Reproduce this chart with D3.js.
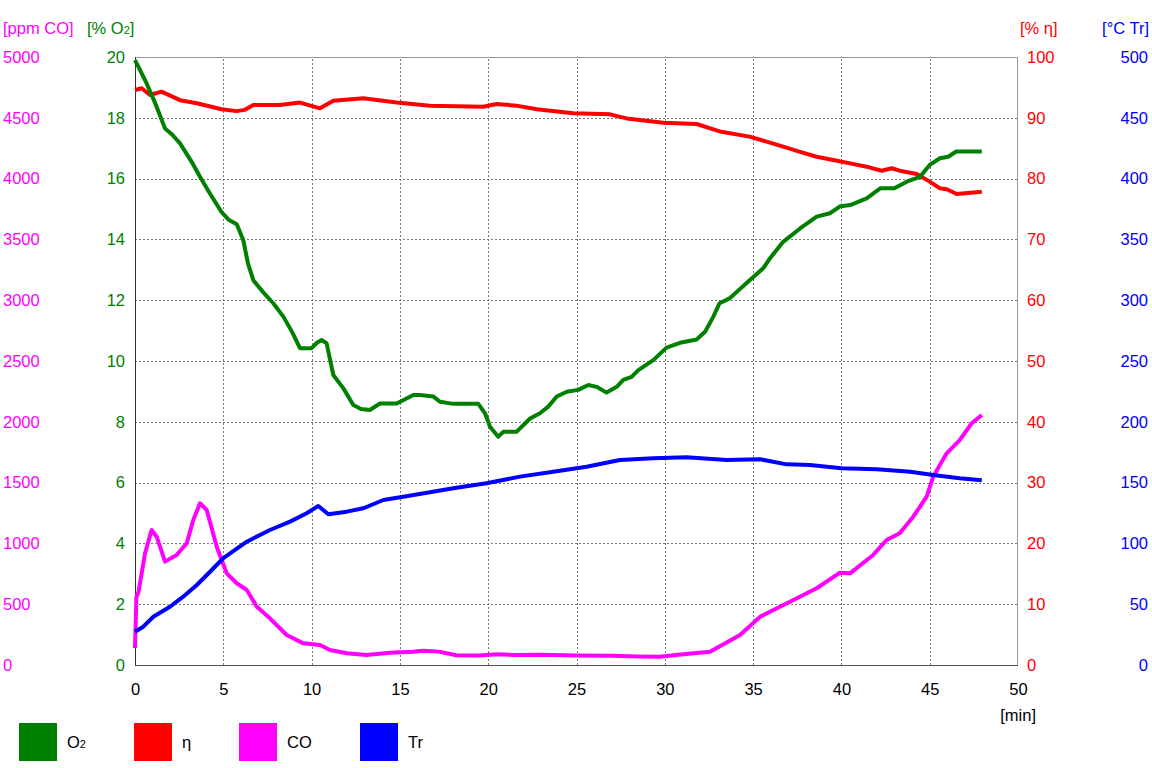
<!DOCTYPE html>
<html>
<head>
<meta charset="utf-8">
<script src="https://cdn.jsdelivr.net/npm/d3@7"></script>
<style>
  body { margin: 0; background: #fff; }
  svg { font-family: "Liberation Sans", Arial, sans-serif; }
  .grid line { stroke: #777; stroke-dasharray: 2,2; shape-rendering: crispEdges; }
  .grid path { display: none; }
  .tick text { font-size: 16.5px; }
</style>
</head>
<body>
<svg id="chart"></svg>
<script>
// values (time in minutes)
const o2Time = [0, 0.3, 0.66, 1.13, 1.7, 2.1, 2.55, 3.2, 3.68, 4.25, 4.9, 5.3, 5.76, 6.13, 6.4, 6.7, 7.2, 7.83, 8.4, 8.9, 9.34, 10.0, 10.3, 10.57, 10.85, 11.23, 11.8, 12.36, 12.8, 13.3, 13.87, 14.82, 15.76, 16.14, 16.9, 17.27, 18.02, 19.44, 19.82, 20.1, 20.57, 20.85, 21.6, 22.37, 22.93, 23.4, 23.88, 24.45, 25.1, 25.67, 26.14, 26.7, 27.28, 27.65, 28.12, 28.5, 29.35, 30.1, 30.86, 31.8, 32.28, 32.75, 33.1, 33.67, 34.6, 35.57, 35.96, 36.7, 37.66, 38.6, 39.35, 39.9, 40.5, 41.43, 42.2, 43.0, 43.7, 44.45, 45.0, 45.58, 46.05, 46.5, 47.95];
const o2Values = [19.9, 19.55, 19.13, 18.5, 17.65, 17.45, 17.16, 16.56, 16.06, 15.5, 14.9, 14.65, 14.5, 13.98, 13.2, 12.66, 12.3, 11.9, 11.46, 10.95, 10.42, 10.42, 10.6, 10.69, 10.58, 9.54, 9.1, 8.55, 8.42, 8.39, 8.6, 8.6, 8.88, 8.88, 8.83, 8.66, 8.59, 8.59, 8.28, 7.84, 7.51, 7.67, 7.67, 8.11, 8.28, 8.5, 8.83, 8.99, 9.05, 9.21, 9.15, 8.96, 9.15, 9.38, 9.48, 9.7, 10.03, 10.44, 10.6, 10.71, 10.96, 11.46, 11.9, 12.06, 12.55, 13.05, 13.38, 13.92, 14.36, 14.75, 14.86, 15.08, 15.13, 15.35, 15.68, 15.68, 15.9, 16.06, 16.45, 16.67, 16.72, 16.89, 16.89];

const etaTime = [0, 0.38, 0.85, 1.5, 2.55, 3.5, 4.9, 5.76, 6.2, 6.7, 8.2, 9.34, 10.48, 11.23, 12.93, 14.82, 16.7, 19.72, 20.48, 21.6, 22.75, 24.82, 26.9, 27.84, 29.92, 31.8, 33.2, 34.8, 35.77, 36.7, 37.66, 38.6, 39.54, 40.5, 41.43, 42.28, 42.85, 43.3, 44.26, 45.0, 45.58, 45.96, 46.53, 47.95];
const etaValues = [94.57, 94.85, 93.75, 94.3, 92.9, 92.4, 91.4, 91.1, 91.3, 92.1, 92.1, 92.5, 91.56, 92.8, 93.2, 92.5, 92.0, 91.83, 92.27, 92.0, 91.4, 90.74, 90.57, 89.9, 89.2, 88.98, 87.7, 86.9, 86.07, 85.25, 84.4, 83.6, 83.06, 82.5, 81.96, 81.3, 81.7, 81.3, 80.76, 79.5, 78.4, 78.24, 77.47, 77.85];

const coTime = [0, 0.08, 0.2, 0.57, 0.94, 1.23, 1.7, 2.36, 2.93, 3.3, 3.68, 4.06, 4.63, 5.19, 5.76, 6.33, 6.9, 7.64, 8.59, 9.53, 10.48, 11.04, 11.99, 13.1, 14.44, 15.76, 16.3, 17.2, 18.2, 19.5, 20.5, 21.5, 23, 25, 27, 28.5, 29.73, 30.5, 31.5, 32.56, 34.26, 35.4, 37.28, 38.6, 39.92, 40.49, 41.8, 42.56, 43.3, 44.07, 44.83, 45.2, 45.96, 46.7, 47.38, 47.95];
const coValues = [140, 560, 600, 919, 1110, 1055, 850, 905, 1001, 1192, 1330, 1275, 973, 754, 672, 617, 479, 384, 247, 178, 164, 123, 96, 82, 101, 109, 118, 110, 80, 78, 88, 82, 85, 78, 76, 70, 68, 80, 95, 109, 247, 397, 535, 631, 759, 754, 905, 1028, 1083, 1220, 1384, 1549, 1741, 1850, 1988, 2056];

const trTime = [0, 0.47, 1.04, 1.98, 2.73, 3.5, 4.25, 5.0, 6.33, 7.64, 8.78, 9.72, 10.38, 10.95, 11.99, 12.93, 14.06, 15.19, 16.7, 18.02, 19.9, 21.8, 23.68, 25.57, 27.46, 29.35, 31.24, 33.5, 35.4, 36.9, 38.22, 40.0, 42.0, 43.9, 45.2, 46.7, 47.95];
const trValues = [27.4, 31.5, 39.7, 47.9, 56.2, 65.8, 76.7, 87.8, 101.4, 111, 117.9, 124.8, 130.8, 123.9, 126.1, 128.9, 135.7, 138.4, 142, 145.3, 149.4, 154.9, 159, 163.1, 168.6, 170, 170.8, 168.6, 169.2, 165, 164.5, 161.8, 160.9, 159, 156.3, 153.5, 152];

const xTicks = [0, 5, 10, 15, 20, 25, 30, 35, 40, 45, 50];
const o2Ticks = [0, 2, 4, 6, 8, 10, 12, 14, 16, 18, 20];
const coTicks = [0, 500, 1000, 1500, 2000, 2500, 3000, 3500, 4000, 4500, 5000];
const etaTicks = [0, 10, 20, 30, 40, 50, 60, 70, 80, 90, 100];
const trTicks = [0, 50, 100, 150, 200, 250, 300, 350, 400, 450, 500];

// [main text, subscript]
const legendNames = [["O", "2"], ["η", ""], ["CO", ""], ["Tr", ""]];
const legendColors = ["#008000", "#ff0000", "#ff00ff", "#0000ff"];

const width = 1152;
const height = 768;
const plotLeft = 135, plotRight = 1018, plotTop = 57, plotBottom = 665;
const fontSize = 16.5;

const svg = d3.select("#chart")
              .attr("width", width)
              .attr("height", height);

const x = d3.scaleLinear().domain([0, 50]).range([plotLeft, plotRight]);
const yO2 = d3.scaleLinear().domain([0, 20]).range([plotBottom, plotTop]);
const yEta = d3.scaleLinear().domain([0, 100]).range([plotBottom, plotTop]);
const yCO = d3.scaleLinear().domain([0, 5000]).range([plotBottom, plotTop]);
const yTr = d3.scaleLinear().domain([0, 500]).range([plotBottom, plotTop]);

// grid
svg.append("g")
   .attr("class", "grid")
   .attr("transform", `translate(0, ${plotBottom})`)
   .call(d3.axisBottom(x).tickValues(xTicks.slice(1, -1)).tickSize(-(plotBottom - plotTop)).tickFormat(""));

svg.append("g")
   .attr("class", "grid")
   .attr("transform", `translate(${plotLeft}, 0)`)
   .call(d3.axisLeft(yO2).tickValues(o2Ticks.slice(1, -1)).tickSize(-(plotRight - plotLeft)).tickFormat(""));

// frame
svg.append("line").attr("x1", plotLeft).attr("x2", plotRight).attr("y1", plotTop + 0.5).attr("y2", plotTop + 0.5)
   .attr("stroke", "#999");
svg.append("line").attr("x1", plotRight - 0.5).attr("x2", plotRight - 0.5).attr("y1", plotTop).attr("y2", plotBottom)
   .attr("stroke", "#999");
svg.append("line").attr("x1", plotLeft).attr("x2", plotRight).attr("y1", plotBottom + 0.5).attr("y2", plotBottom + 0.5)
   .attr("stroke", "#555");
svg.append("line").attr("x1", plotLeft + 0.5).attr("x2", plotLeft + 0.5).attr("y1", plotTop).attr("y2", plotBottom + 1)
   .attr("stroke", "#333");

// axes labels
function styleAxis(g, color) {
  g.select(".domain").remove();
  g.selectAll(".tick line").remove();
  g.selectAll(".tick text").attr("fill", color);
}

svg.append("g")
   .attr("transform", `translate(3, 0)`)
   .call(d3.axisRight(yCO).tickValues(coTicks).tickSize(0).tickPadding(0).tickFormat(d3.format("d")))
   .call(g => styleAxis(g, "#ff00ff"));

svg.append("g")
   .attr("transform", `translate(125, 0)`)
   .call(d3.axisLeft(yO2).tickValues(o2Ticks).tickSize(0).tickPadding(0))
   .call(g => styleAxis(g, "#008000"));

svg.append("g")
   .attr("transform", `translate(1027, 0)`)
   .call(d3.axisRight(yEta).tickValues(etaTicks).tickSize(0).tickPadding(0))
   .call(g => styleAxis(g, "#ff0000"));

svg.append("g")
   .attr("transform", `translate(1148, 0)`)
   .call(d3.axisLeft(yTr).tickValues(trTicks).tickSize(0).tickPadding(0))
   .call(g => styleAxis(g, "#0000ff"));

svg.append("g")
   .attr("transform", `translate(0, ${plotBottom})`)
   .call(d3.axisBottom(x).tickValues(xTicks).tickSize(0).tickPadding(18))
   .call(g => styleAxis(g, "#000"));

// unit titles
const titles = [
  { parts: ["[ppm CO]"], x: 3, anchor: "start", color: "#ff00ff" },
  { parts: ["[% O", "2", "]"], x: 87, anchor: "start", color: "#008000" },
  { parts: ["[% η]"], x: 1020, anchor: "start", color: "#ff0000" },
  { parts: ["[°C Tr]"], x: 1149, anchor: "end", color: "#0000ff" }
];
const unit = svg.selectAll(".unit")
   .data(titles)
   .enter()
   .append("text")
   .attr("class", "unit")
   .attr("x", d => d.x)
   .attr("y", 34)
   .attr("text-anchor", d => d.anchor)
   .attr("fill", d => d.color)
   .attr("font-size", fontSize);

unit.selectAll("tspan")
    .data(d => d.parts)
    .enter()
    .append("tspan")
    .attr("font-size", (d, i) => i === 1 ? 11 : fontSize)
    .text(d => d);

svg.append("text")
   .attr("x", 1036)
   .attr("y", 721)
   .attr("text-anchor", "end")
   .attr("font-size", fontSize)
   .text("[min]");

// series
const series = [
  { t: coTime, v: coValues, y: yCO, color: "#ff00ff" },
  { t: trTime, v: trValues, y: yTr, color: "#0000ff" },
  { t: etaTime, v: etaValues, y: yEta, color: "#ff0000" },
  { t: o2Time, v: o2Values, y: yO2, color: "#008000" }
];

series.forEach(s => {
  const pts = s.t.map((t, i) => [t, s.v[i]]);
  const line = d3.line().x(d => x(d[0])).y(d => s.y(d[1]));
  svg.append("path")
     .datum(pts)
     .attr("fill", "none")
     .attr("stroke", s.color)
     .attr("stroke-width", 4)
     .attr("stroke-linejoin", "round")
     .attr("d", line);
});

// legend
const legendX = [19, 134, 239, 360];
const legend = svg.selectAll(".legend")
   .data(legendNames)
   .enter()
   .append("g")
   .attr("class", "legend")
   .attr("transform", (d, i) => `translate(${legendX[i]}, 723)`);

legend.append("rect")
      .attr("width", 38)
      .attr("height", 38)
      .attr("fill", (d, i) => legendColors[i]);

const legendText = legend.append("text")
      .attr("x", 48)
      .attr("y", 25)
      .attr("font-size", fontSize);

legendText.append("tspan").text(d => d[0]);
legendText.append("tspan").attr("font-size", 11).text(d => d[1]);
</script>
</body>
</html>
